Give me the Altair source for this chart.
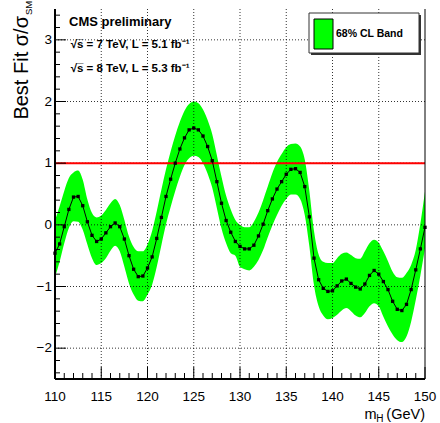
import altair as alt
import pandas as pd

# Higgs mass hypotheses (GeV)
mass = [110.0, 110.5, 111.0, 111.5, 112.0, 112.5, 113.0, 113.5, 114.0, 114.5,
        115.0, 115.5, 116.0, 116.5, 117.0, 117.5, 118.0, 118.5, 119.0, 119.5,
        120.0, 120.5, 121.0, 121.5, 122.0, 122.5, 123.0, 123.5, 124.0, 124.5,
        125.0, 125.5, 126.0, 126.5, 127.0, 127.5, 128.0, 128.5, 129.0, 129.5,
        130.0, 130.5, 131.0, 131.5, 132.0, 132.5, 133.0, 133.5, 134.0, 134.5,
        135.0, 135.5, 136.0, 136.5, 137.0, 137.5, 138.0, 138.5, 139.0, 139.5,
        140.0, 140.5, 141.0, 141.5, 142.0, 142.5, 143.0, 143.5, 144.0, 144.5,
        145.0, 145.5, 146.0, 146.5, 147.0, 147.5, 148.0, 148.5, 149.0, 149.5,
        150.0]

# Best-fit signal strength sigma/sigma_SM
best_fit = [-0.46, -0.31, -0.03, 0.25, 0.45, 0.46, 0.31, 0.05, -0.17, -0.27,
            -0.23, -0.13, -0.03, 0.03, -0.03, -0.23, -0.50, -0.72, -0.84, -0.83,
            -0.70, -0.52, -0.22, 0.12, 0.46, 0.74, 1.00, 1.23, 1.41, 1.54,
            1.57, 1.54, 1.44, 1.27, 1.04, 0.70, 0.35, 0.07, -0.12, -0.27,
            -0.35, -0.39, -0.39, -0.33, -0.18, 0.01, 0.23, 0.42, 0.58, 0.70,
            0.82, 0.90, 0.91, 0.85, 0.62, 0.13, -0.54, -0.89, -1.03, -1.08,
            -1.07, -0.99, -0.91, -0.88, -0.95, -1.01, -1.04, -0.96, -0.82, -0.74,
            -0.80, -0.92, -1.05, -1.24, -1.37, -1.39, -1.29, -1.05, -0.73, -0.39,
            -0.04]

# 68% CL band edges
band_high = [0.07, 0.30, 0.55, 0.76, 0.85, 0.88, 0.73, 0.41, 0.19, 0.12,
             0.15, 0.24, 0.35, 0.42, 0.32, 0.08, -0.19, -0.36, -0.43, -0.43,
             -0.32, -0.10, 0.22, 0.57, 0.90, 1.19, 1.45, 1.67, 1.85, 1.96,
             2.00, 1.97, 1.87, 1.70, 1.47, 1.13, 0.78, 0.47, 0.25, 0.08,
             0.00, -0.04, -0.04, 0.05, 0.20, 0.40, 0.62, 0.84, 1.02, 1.15,
             1.26, 1.31, 1.32, 1.27, 1.06, 0.55, -0.10, -0.48, -0.60, -0.62,
             -0.62, -0.54, -0.47, -0.45, -0.49, -0.54, -0.55, -0.43, -0.30, -0.24,
             -0.29, -0.43, -0.59, -0.76, -0.85, -0.86, -0.78, -0.65, -0.41, 0.02,
             0.54]

band_low = [-0.85, -0.60, -0.30, -0.05, 0.06, 0.05, -0.08, -0.32, -0.54, -0.65,
            -0.62, -0.54, -0.42, -0.34, -0.43, -0.68, -0.95, -1.13, -1.23, -1.24,
            -1.13, -0.97, -0.68, -0.33, 0.01, 0.29, 0.55, 0.78, 0.97, 1.08,
            1.12, 1.10, 1.00, 0.83, 0.60, 0.27, -0.06, -0.30, -0.46, -0.50,
            -0.68, -0.72, -0.74, -0.68, -0.57, -0.41, -0.20, -0.01, 0.16, 0.31,
            0.42, 0.49, 0.49, 0.42, 0.16, -0.35, -0.98, -1.32, -1.47, -1.53,
            -1.51, -1.46, -1.39, -1.35, -1.40, -1.47, -1.50, -1.43, -1.32, -1.27,
            -1.32, -1.49, -1.65, -1.78, -1.87, -1.90, -1.81, -1.57, -1.22, -0.82,
            -0.38]

# Axis ticks, grid and reference line
x_major = [110, 115, 120, 125, 130, 135, 140, 145, 150]
x_minor = [m for m in range(111, 150) if m % 5 != 0]
x_grid = [115, 120, 125, 130, 135, 140, 145]
y_major = [-2, -1, 0, 1, 2, 3]
y_minor = [round(-2.4 + 0.2 * i, 1) for i in range(30) if abs(round(-2.4 + 0.2 * i, 1) % 1) > 1e-6]
sm_value = [1]

W, H = 370, 370
FONT = "Liberation Sans, Arial, sans-serif"
GREEN = "#00ff00"

df = pd.DataFrame({"mass": mass, "mu": best_fit, "hi": band_high, "lo": band_low})
xs = alt.Scale(domain=[110, 150], nice=False, zero=False)
ys = alt.Scale(domain=[-2.5, 3.5], nice=False, zero=False)

base = alt.Chart(df)

band = base.mark_area(color=GREEN, interpolate="monotone").encode(
    x=alt.X("mass:Q", scale=xs, axis=None),
    y=alt.Y("lo:Q", scale=ys, axis=None),
    y2="hi:Q",
)

grid_x = alt.Chart(pd.DataFrame({"v": x_grid})).mark_rule(
    color="#000000", strokeWidth=1, strokeDash=[1, 2], opacity=0.8
).encode(x=alt.X("v:Q", scale=xs, axis=None), y=alt.value(0), y2=alt.value(H))

grid_y = alt.Chart(pd.DataFrame({"v": y_major})).mark_rule(
    color="#000000", strokeWidth=1, strokeDash=[1, 2], opacity=0.8
).encode(y=alt.Y("v:Q", scale=ys, axis=None), x=alt.value(0), x2=alt.value(W))

sm_line = alt.Chart(pd.DataFrame({"v": sm_value})).mark_rule(
    color="#ff0000", strokeWidth=2
).encode(y=alt.Y("v:Q", scale=ys, axis=None), x=alt.value(0), x2=alt.value(W))

curve = base.mark_line(color="#000000", strokeWidth=1).encode(
    x=alt.X("mass:Q", scale=xs, axis=None),
    y=alt.Y("mu:Q", scale=ys, axis=None),
)

points = base.mark_point(shape="square", filled=True, color="#000000", size=11, opacity=1).encode(
    x=alt.X("mass:Q", scale=xs, axis=None),
    y=alt.Y("mu:Q", scale=ys, axis=None),
)

# Frame
frame_left = alt.Chart(pd.DataFrame({"v": [0]})).mark_rule(color="#000000", strokeWidth=2).encode(
    x=alt.value(0), y=alt.value(0), y2=alt.value(H))
frame_bottom = alt.Chart(pd.DataFrame({"v": [0]})).mark_rule(color="#000000", strokeWidth=2).encode(
    x=alt.value(0), x2=alt.value(W), y=alt.value(H))
frame_right = alt.Chart(pd.DataFrame({"v": [0]})).mark_rule(color="#000000", strokeWidth=1).encode(
    x=alt.value(W), y=alt.value(0), y2=alt.value(H))

# Ticks pointing into the frame
xt_major = alt.Chart(pd.DataFrame({"v": x_major})).mark_rule(color="#000000", strokeWidth=1).encode(
    x=alt.X("v:Q", scale=xs, axis=None), y=alt.value(H), y2=alt.value(H - 12))
xt_minor = alt.Chart(pd.DataFrame({"v": x_minor})).mark_rule(color="#000000", strokeWidth=1).encode(
    x=alt.X("v:Q", scale=xs, axis=None), y=alt.value(H), y2=alt.value(H - 6))
yt_major = alt.Chart(pd.DataFrame({"v": y_major})).mark_rule(color="#000000", strokeWidth=1).encode(
    y=alt.Y("v:Q", scale=ys, axis=None), x=alt.value(0), x2=alt.value(11))
yt_minor = alt.Chart(pd.DataFrame({"v": y_minor})).mark_rule(color="#000000", strokeWidth=1).encode(
    y=alt.Y("v:Q", scale=ys, axis=None), x=alt.value(0), x2=alt.value(5))

# Tick labels
x_labels = alt.Chart(pd.DataFrame({"v": x_major})).mark_text(
    font=FONT, fontSize=13.5, align="center", baseline="middle", color="#000000"
).encode(x=alt.X("v:Q", scale=xs, axis=None), y=alt.value(388), text=alt.Text("v:Q"))
y_labels = alt.Chart(pd.DataFrame({"v": y_major})).mark_text(
    font=FONT, fontSize=13.5, align="right", baseline="middle", color="#000000"
).encode(y=alt.Y("v:Q", scale=ys, axis=None), x=alt.value(-3), text=alt.Text("v:Q"))


def label(text, x, y, size, weight="normal", align="left", angle=0, baseline="alphabetic"):
    kw = dict(font=FONT, fontSize=size, fontWeight=weight, align=align,
              baseline=baseline, color="#000000")
    if angle:
        kw["angle"] = angle
    return alt.Chart(pd.DataFrame({"t": [text]})).mark_text(**kw).encode(
        x=alt.value(x), y=alt.value(y), text="t:N")


# Axis titles
x_title = [
    label("(GeV)", W, 410, 14.5, align="right"),
    label("H", 328.5, 413, 10, align="right"),
    label("m", 321.7, 410, 14.5, align="right"),
]
y_title = [
    label("Best Fit σ/σ", -27, 7, 20, align="right", angle=270),
    label("SM", -23, 6, 9.5, align="left", angle=270),
]

# Header text
header = [
    label("CMS preliminary", 14, 17, 13, weight="bold"),
    label("√s̅ = 7 TeV, L = 5.1 fb⁻¹", 15.7, 39, 11.5, weight="bold"),
    label("√s̅ = 8 TeV, L = 5.3 fb⁻¹", 15.7, 63, 11.5, weight="bold"),
]


# Legend box with shadow
def box(x1, y1, x2, y2, fill, stroke=None, sw=1):
    kw = dict(fill=fill)
    if stroke:
        kw.update(stroke=stroke, strokeWidth=sw)
    return alt.Chart(pd.DataFrame({"v": [0]})).mark_rect(**kw).encode(
        x=alt.value(x1), x2=alt.value(x2), y=alt.value(y1), y2=alt.value(y2))


legend = [
    box(256, 6, 366, 46, "#333333"),
    box(254, 4, 364, 44, "#ffffff", "#333333", 1),
    box(259, 10, 278, 40, GREEN, "#000000", 1),
    label("68% CL Band", 281, 25, 10.5, weight="bold", baseline="middle"),
]

chart = alt.layer(
    band, grid_x, grid_y, sm_line, curve, points,
    xt_minor, xt_major, yt_minor, yt_major,
    frame_left, frame_bottom, frame_right,
    x_labels, y_labels, *x_title, *y_title, *header, *legend,
).properties(
    width=W, height=H,
    padding={"left": 55, "top": 9, "right": 15, "bottom": 44},
    autosize=alt.AutoSizeParams(type="none"),
    background="#ffffff",
).configure_view(stroke=None)

chart.save("out.html", embed_options={"renderer": "svg", "actions": False})
